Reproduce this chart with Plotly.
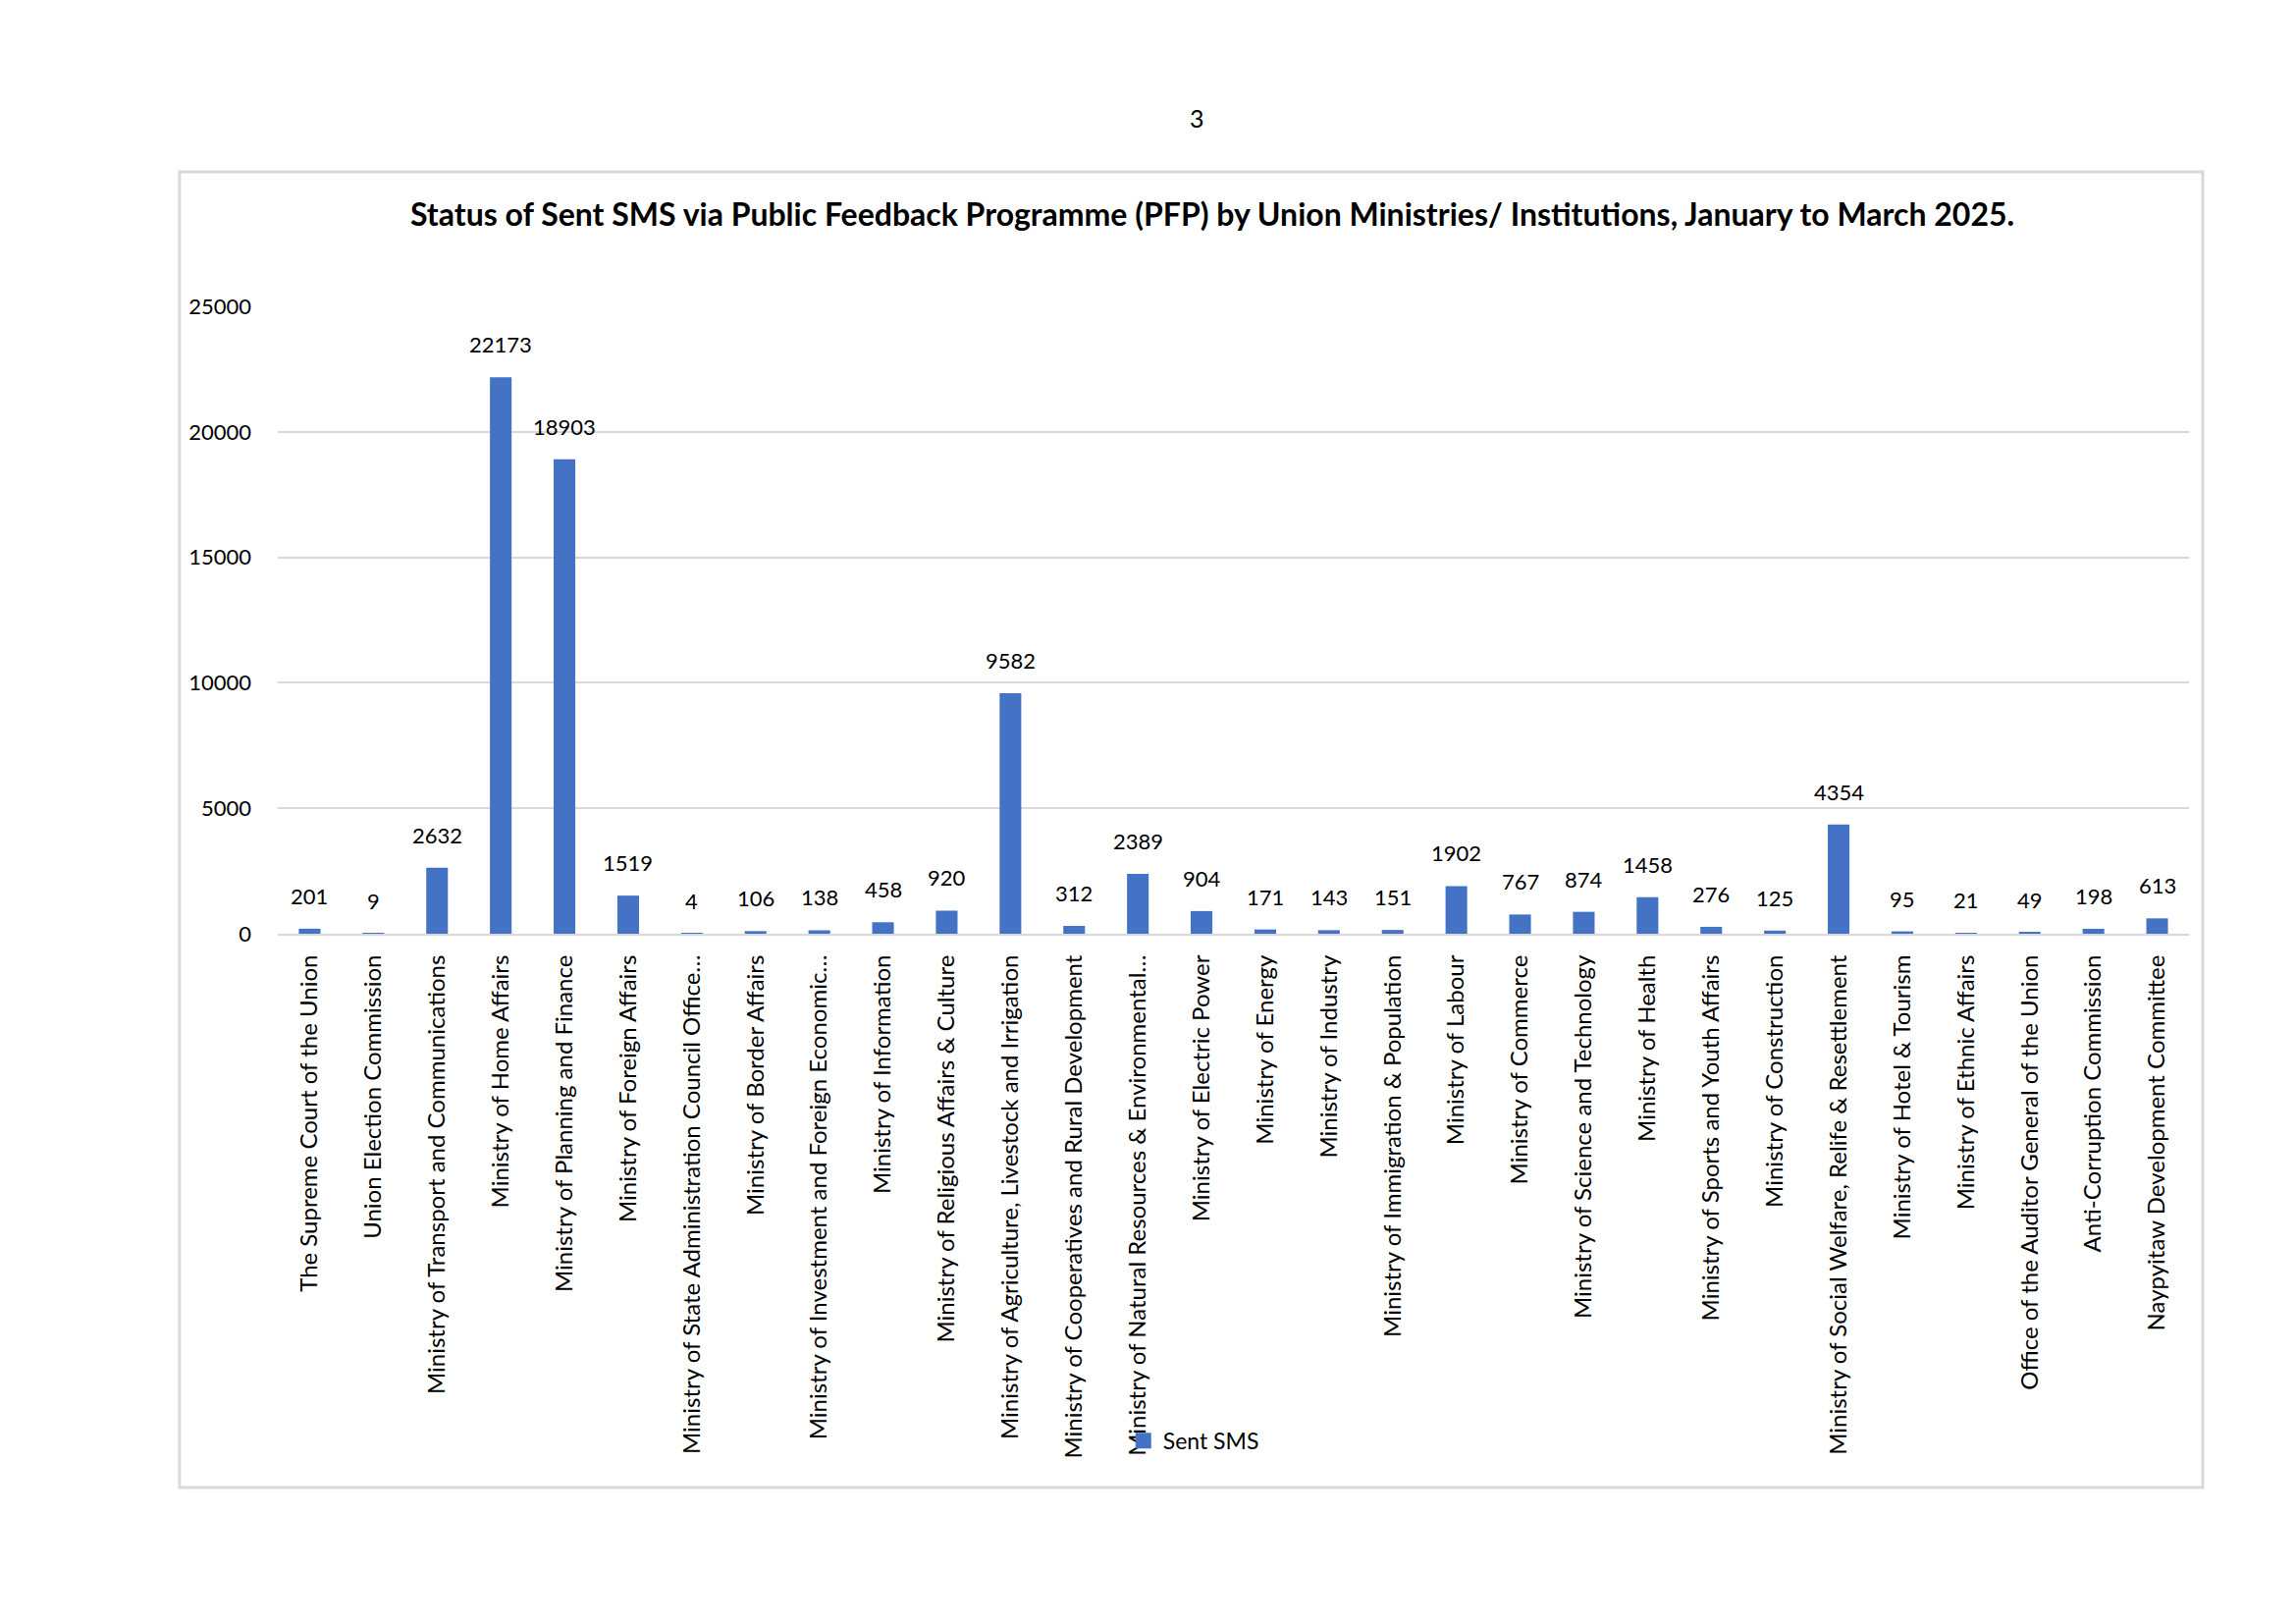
import plotly.graph_objects as go

# Sent SMS per ministry / institution, January to March 2025
ministries = [
    "The Supreme Court of the Union",
    "Union Election Commission",
    "Ministry of Transport and Communications",
    "Ministry of Home Affairs",
    "Ministry of Planning and Finance",
    "Ministry of Foreign Affairs",
    "Ministry of State Administration Council Office…",
    "Ministry of Border Affairs",
    "Ministry of Investment and Foreign Economic…",
    "Ministry of Information",
    "Ministry of Religious Affairs & Culture",
    "Ministry of Agriculture, Livestock and Irrigation",
    "Ministry of Cooperatives and Rural Development",
    "Ministry of Natural Resources & Environmental…",
    "Ministry of Electric Power",
    "Ministry of Energy",
    "Ministry of Industry",
    "Ministry of Immigration & Population",
    "Ministry of Labour",
    "Ministry of Commerce",
    "Ministry of Science and Technology",
    "Ministry of Health",
    "Ministry of Sports and Youth Affairs",
    "Ministry of Construction",
    "Ministry of Social Welfare, Relife & Resettlement",
    "Ministry of Hotel & Tourism",
    "Ministry of Ethnic Affairs",
    "Office of the Auditor General of the Union",
    "Anti-Corruption Commission",
    "Naypyitaw Development Committee",
]
sent_sms = [201, 9, 2632, 22173, 18903, 1519, 4, 106, 138, 458,
            920, 9582, 312, 2389, 904, 171, 143, 151, 1902, 767,
            874, 1458, 276, 125, 4354, 95, 21, 49, 198, 613]
y_ticks = [0, 5000, 10000, 15000, 20000, 25000]

FONT = "Lato"
BLUE = "#4472C4"
GRID = "#d9d9d9"

fig = go.Figure()
fig.add_trace(go.Bar(x=ministries, y=sent_sms, name="Sent SMS", showlegend=False,
                     marker=dict(color=BLUE, line=dict(width=0))))
# legend key only (bigger square than the bar legend glyph)
fig.add_trace(go.Scatter(x=[None], y=[None], mode="markers", name="Sent SMS",
                         marker=dict(symbol="square", size=16, color=BLUE),
                         hoverinfo="skip"))

# value labels above each bar
labels = [dict(x=m, y=v, text=str(v), showarrow=False, yanchor="bottom",
               yshift=18, font=dict(family=FONT, size=22, color="#000000"))
          for m, v in zip(ministries, sent_sms)]

fig.update_layout(
    width=2339, height=1654,
    # page body adds 8px, so margins are trimmed to keep the plot in place
    margin=dict(l=275, r=117, t=304, b=711),
    paper_bgcolor="white", plot_bgcolor="white",
    font=dict(family=FONT, color="#000000"),
    bargap=0.66,
    showlegend=True,
    legend=dict(orientation="h", x=0.4426, y=-0.808, xanchor="left",
                yanchor="middle", font=dict(family=FONT, size=23),
                itemwidth=30, itemsizing="trace", bgcolor="rgba(0,0,0,0)"),
    annotations=labels + [
        dict(text="<b>Status of Sent SMS via Public Feedback Programme (PFP) by Union Ministries/ Institutions, January to March 2025.</b>",
             xref="paper", yref="paper", x=0.489, y=1.148, showarrow=False,
             xanchor="center", yanchor="middle",
             font=dict(family=FONT, size=32, color="#000000")),
        dict(text="3", xref="paper", yref="paper", x=0.481, y=1.3, showarrow=False,
             xanchor="center", yanchor="middle",
             font=dict(family=FONT, size=25, color="#000000")),
    ],
    shapes=[dict(type="rect", xref="paper", yref="paper",
                 x0=-0.0514, x1=1.0072, y0=-0.8826, y1=1.2144,
                 line=dict(color=GRID, width=3), layer="below")],
)

fig.update_xaxes(tickangle=-90, tickfont=dict(family=FONT, size=24, color="#000000"),
                 showline=True, linecolor=GRID, linewidth=2, showgrid=False,
                 ticks="", ticklabelstandoff=10, automargin=False)
fig.update_yaxes(range=[0, 25000], tickvals=y_ticks, tickformat="d",
                 tickfont=dict(family=FONT, size=22, color="#000000"),
                 showgrid=True, gridcolor=GRID, gridwidth=2, zeroline=False,
                 showline=False, ticks="", ticklabelstandoff=26, automargin=False)

fig.write_html("out.html")
